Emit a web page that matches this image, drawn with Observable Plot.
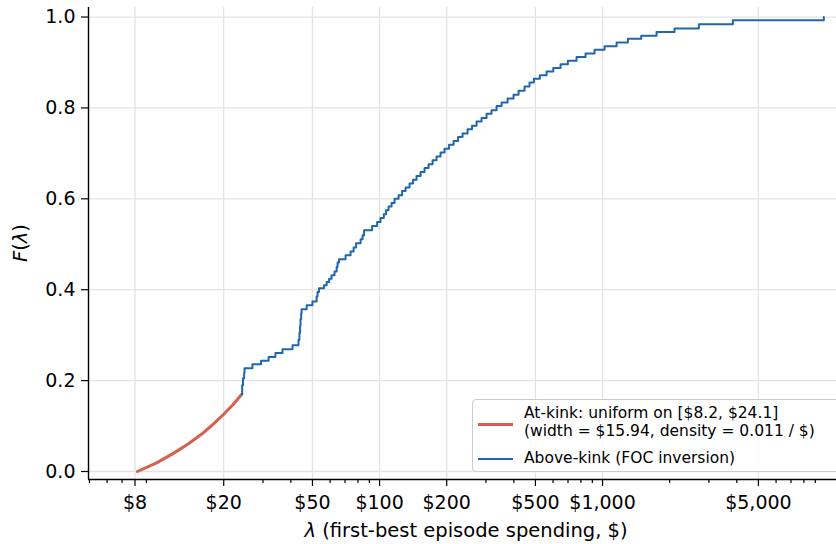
<!DOCTYPE html>
<html><head><meta charset="utf-8">
<script src="https://cdn.jsdelivr.net/npm/d3@7"></script>
<script src="https://cdn.jsdelivr.net/npm/@observablehq/plot@0.6"></script>
<style>
body{margin:0;background:#fff;overflow:hidden;}
#wrap{position:relative;width:836px;height:544px;overflow:hidden;font-family:"DejaVu Sans",sans-serif;}
#legend{position:absolute;left:472px;top:399px;width:380px;height:73px;border:1px solid #cccccc;border-radius:4px;background:rgba(255,255,255,0.85);box-sizing:border-box;font-size:15.5px;color:#000;}
#legend .sw{position:absolute;left:5px;width:35px;}
#legend .tx{position:absolute;left:51px;line-height:18px;white-space:nowrap;}
</style></head>
<body><div id="wrap"></div>
<script>
// At-kink segment (uniform on [$8.2, $24.1])
const redLambda = [8.2, 10, 12, 14, 16, 18, 20, 22, 24.1];
const redF = [0, 0.019, 0.041, 0.062, 0.083, 0.105, 0.126, 0.147, 0.170];

// Above-kink empirical CDF (step after each lambda)
const blueLambda = [24.1, 24.2, 24.4, 24.7, 24.8, 26.9, 29.4, 31.8, 34.1, 36.7,
  40.7, 43.3, 43.7, 44.0, 44.2, 44.5, 44.7, 47.1, 50.0, 52.2,
  52.7, 53.5, 56.3, 57.9, 59.4, 60.9, 62.8, 64.2, 64.8, 65.8,
  70.4, 74.1, 76.5, 78.5, 82.2, 83.9, 85.2, 92.6, 97.5, 101,
  104.5, 106.9, 109.7, 113.2, 116.7, 121.7, 126.2, 130.8, 136.3, 141.3,
  146.5, 152.7, 159.1, 165.9, 172.9, 180.1, 187.7, 195.6, 205, 214.7,
  224.9, 235.6, 248.1, 259.9, 272.3, 286.7, 301.9, 317.8, 334.7, 352.5,
  375, 398.9, 420.1, 446.9, 470.5, 491.9, 523.4, 561, 601.2, 648.2,
  698.9, 764.6, 839, 920.7, 1021, 1156, 1299, 1491, 1747, 2103,
  2703, 3840, 9826];
const blueF = [0.170, 0.190, 0.205, 0.218, 0.227, 0.236, 0.2435, 0.252, 0.261, 0.269,
  0.278, 0.290, 0.305, 0.320, 0.335, 0.348, 0.357, 0.366, 0.374, 0.385,
  0.395, 0.403, 0.410, 0.417, 0.424, 0.432, 0.440, 0.450, 0.460, 0.467,
  0.476, 0.484, 0.493, 0.502, 0.511, 0.520, 0.531, 0.540, 0.549, 0.558,
  0.566, 0.575, 0.583, 0.591, 0.600, 0.608, 0.617, 0.625, 0.634, 0.642,
  0.650, 0.659, 0.668, 0.676, 0.685, 0.693, 0.702, 0.710, 0.719, 0.727,
  0.736, 0.744, 0.753, 0.761, 0.770, 0.778, 0.787, 0.795, 0.804, 0.812,
  0.821, 0.829, 0.838, 0.847, 0.856, 0.864, 0.872, 0.880, 0.888, 0.896,
  0.904, 0.912, 0.920, 0.928, 0.936, 0.944, 0.952, 0.959, 0.967, 0.975,
  0.984, 0.993, 1.000];

const majorTicks = [8, 20, 50, 100, 200, 500, 1000, 5000];
const majorLabels = ["$8", "$20", "$50", "$100", "$200", "$500", "$1,000", "$5,000"];
const minorTicks = [5, 6, 7, 9, 30, 40, 60, 70, 80, 90, 300, 400, 600, 700, 800, 900,
  2000, 3000, 4000, 6000, 7000, 8000, 9000];
const yTicks = [0, 0.2, 0.4, 0.6, 0.8, 1.0];
const legendLabels = ["At-kink: uniform on [$8.2, $24.1]", "(width = $15.94, density = 0.011 / $)", "Above-kink (FOC inversion)"];

const red = redLambda.map((x, i) => ({x, y: redF[i]}));
const blue = blueLambda.map((x, i) => ({x, y: blueF[i]}));
const xLabelData = majorTicks.map((x, i) => ({x, label: majorLabels[i]}));

const xDomain = [4.95, 11200];
const yDomain = [-0.0176, 1.021];
const RED = "#d6604d", BLUE = "#2166ac", GRID = "#e3e3e3";

const chart = Plot.plot({
  width: 836, height: 544,
  marginLeft: 88, marginRight: 0, marginTop: 7, marginBottom: 65,
  style: {fontFamily: "DejaVu Sans, sans-serif", fontSize: "19px", color: "#000", background: "#fff", overflow: "visible"},
  x: {type: "log", domain: xDomain},
  y: {domain: yDomain},
  marks: [
    Plot.ruleY(yTicks, {stroke: GRID, strokeWidth: 1.3}),
    Plot.ruleX(majorTicks, {stroke: GRID, strokeWidth: 1.3}),
    Plot.line(red, {x: "x", y: "y", stroke: RED, strokeWidth: 3}),
    Plot.line(blue, {x: "x", y: "y", stroke: BLUE, strokeWidth: 2, curve: "step-after"}),
    Plot.axisX(minorTicks, {tickSize: 4, tickFormat: () => "", label: null, strokeWidth: 1.2}),
    Plot.axisX(majorTicks, {tickSize: 7, tickFormat: () => "", label: null, strokeWidth: 1.2}),
    Plot.text(xLabelData, {x: "x", text: "label", frameAnchor: "bottom", lineAnchor: "top", dy: 16,
      fontSize: 19, fill: "#000"}),
    Plot.axisY(yTicks, {tickSize: 7, tickPadding: 6, strokeWidth: 1.2,
      tickFormat: d => d.toFixed(1), label: null}),
    Plot.ruleX([xDomain[0]], {stroke: "#000", strokeWidth: 1.4}),
    Plot.ruleY([yDomain[0]], {stroke: "#000", strokeWidth: 1.4})
  ]
});

const wrap = document.getElementById("wrap");
wrap.appendChild(chart);

// axis titles with italic lambda
const svg = d3.select(chart);
const xt = svg.append("text").attr("x", 466).attr("y", 537).attr("text-anchor", "middle")
  .attr("font-size", 19.5).attr("fill", "#000");
xt.append("tspan").attr("font-style", "italic").text("λ");
xt.append("tspan").text(" (first-best episode spending, $)");
const yt = svg.append("text").attr("transform", "translate(27,243) rotate(-90)").attr("text-anchor", "middle")
  .attr("font-size", 19.5).attr("fill", "#000");
yt.append("tspan").attr("font-style", "italic").text("F");
yt.append("tspan").text("(");
yt.append("tspan").attr("font-style", "italic").text("λ");
yt.append("tspan").text(")");

// legend
const lg = document.createElement("div");
lg.id = "legend";
lg.innerHTML =
  `<div class="sw" style="top:23px;height:3px;background:${RED}"></div>` +
  `<div class="tx" style="top:4px">${legendLabels[0]}<br>${legendLabels[1]}</div>` +
  `<div class="sw" style="top:57.5px;height:2px;background:${BLUE}"></div>` +
  `<div class="tx" style="top:49px">${legendLabels[2]}</div>`;
wrap.appendChild(lg);
</script>
</body></html>
